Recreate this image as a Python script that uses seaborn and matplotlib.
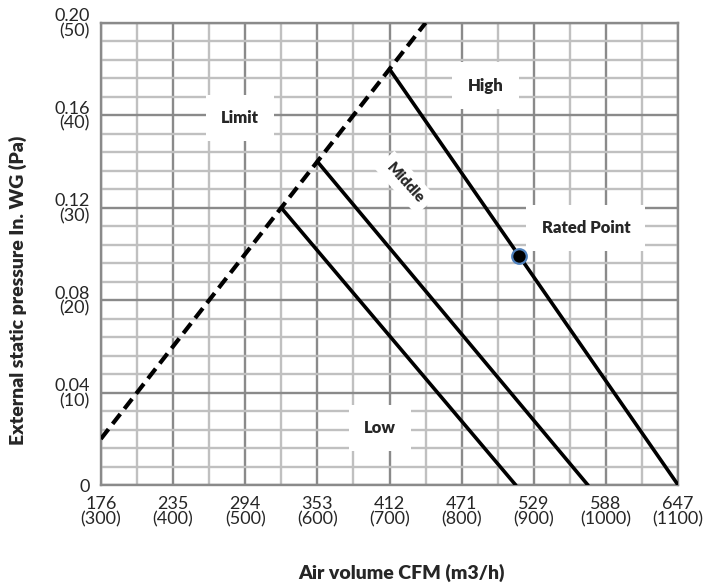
import numpy as np
import pandas as pd
import matplotlib
matplotlib.use('Agg')
import matplotlib.pyplot as plt
import seaborn as sns

# air volume m3/h and pressure Pa
limit_x = [300, 750]
limit_y = [5, 50]
low_x = [550, 875]
low_y = [30, 0]
middle_x = [600, 975]
middle_y = [35, 0]
high_x = [700, 1100]
high_y = [45, 0]
rated_x = [880]
rated_y = [24.75]

x_ticks = [300, 400, 500, 600, 700, 800, 900, 1000, 1100]
x_cfm = ['176', '235', '294', '353', '412', '471', '529', '588', '647']
y_ticks = [0, 10, 20, 30, 40, 50]
y_wg = ['0', '0.04', '0.08', '0.12', '0.16', '0.20']

sns.set_style('white')
plt.rcParams['font.family'] = ['Lato', 'DejaVu Sans']

fig = plt.figure(figsize=(7.2, 5.86), dpi=100)
ax = fig.add_axes([0.140, 0.172, 0.802, 0.789])

# grid
for v in np.arange(300, 1101, 50):
    ax.axvline(v, color='#8a8a8a' if v % 100 == 0 else '#c0c0c0', lw=1.7, zorder=0)
for v in np.arange(0, 51, 2):
    ax.axhline(v, color='#8a8a8a' if v % 10 == 0 else '#c0c0c0', lw=1.7, zorder=0)

lim = pd.DataFrame({'x': limit_x, 'y': limit_y})
sns.lineplot(data=lim, x='x', y='y', ax=ax, color='black', lw=3, zorder=3)
ax.lines[-1].set_linestyle((0, (3, 1.6)))
for xs, ys in [(low_x, low_y), (middle_x, middle_y), (high_x, high_y)]:
    sns.lineplot(x=xs, y=ys, ax=ax, color='black', lw=2.6, zorder=3)
sns.scatterplot(x=rated_x, y=rated_y, ax=ax, color='black', s=110,
                edgecolor='#4f81bd', linewidth=1.6, zorder=5)

box = dict(facecolor='white', edgecolor='none', pad=11)
ax.text(493, 39.7, 'Limit', ha='center', va='center', fontsize=12, fontweight='heavy', bbox=box, zorder=4)
ax.text(833, 43.2, 'High', ha='center', va='center', fontsize=12, fontweight='heavy', bbox=box, zorder=4)
ax.text(722, 32.7, 'Middle', ha='center', va='center', fontsize=11, fontweight='heavy',
        rotation=-48, bbox=dict(facecolor='white', edgecolor='none', pad=5), zorder=4)
ax.text(972, 27.8, 'Rated Point', ha='center', va='center', fontsize=12, fontweight='heavy', bbox=box, zorder=4)
ax.text(687, 6.2, 'Low', ha='center', va='center', fontsize=12, fontweight='heavy', bbox=box, zorder=4)

ax.set_xlim(300, 1100)
ax.set_ylim(0, 50)
ax.set_xticks(x_ticks)
ax.set_xticklabels([f'{c}\n({m})' for c, m in zip(x_cfm, x_ticks)], fontsize=13, linespacing=0.9)
ax.set_yticks(y_ticks)
ax.set_yticklabels(['0'] + [f'{w}\n({p})' for w, p in zip(y_wg[1:], y_ticks[1:])],
                   fontsize=13, linespacing=0.9)
ax.tick_params(axis='both', length=0, pad=8)
for s in ax.spines.values():
    s.set_color('#8a8a8a')
    s.set_linewidth(1.7)

fig.text(0.558, 0.012, 'Air volume CFM (m3/h)', ha='center', fontsize=14, fontweight='heavy')
fig.text(0.025, 0.505, 'External static pressure In. WG (Pa)', va='center', ha='center', rotation=90,
         fontsize=14, fontweight='heavy')
ax.set_xlabel('')
ax.set_ylabel('')

fig.savefig('out.png', dpi=100)
